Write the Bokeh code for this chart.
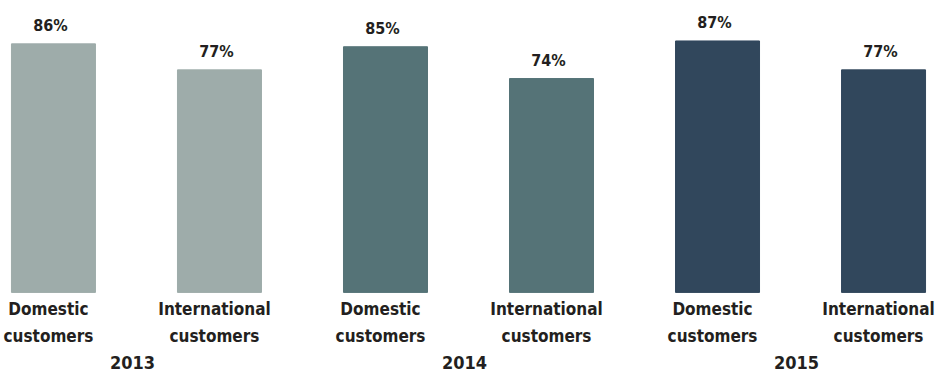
from bokeh.plotting import figure
from bokeh.models import ColumnDataSource, Range1d
from bokeh.embed import file_html
from bokeh.resources import INLINE
from bokeh.core.properties import value

years = ["2013", "2014", "2015"]
segments = ["Domestic customers", "International customers"]
satisfaction = {
    "2013": [86, 77],
    "2014": [85, 74],
    "2015": [87, 77],
}
year_colors = ["#9eacaa", "#557377", "#31475c"]

FONT = value("DejaVu Sans Condensed")

xs, tops, colors, seg_labels, pct_labels = [], [], [], [], []
k = 0
for yi, yr in enumerate(years):
    for si, seg in enumerate(segments):
        xs.append(k)
        tops.append(satisfaction[yr][si])
        colors.append(year_colors[yi])
        seg_labels.append(seg.replace(" ", "\n"))
        pct_labels.append(f"{satisfaction[yr][si]}%")
        k += 1

src = ColumnDataSource(dict(x=xs, top=tops, color=colors, seg=seg_labels, pct=pct_labels,
                            zero=[0] * len(xs)))
ysrc = ColumnDataSource(dict(x=[i * 2 + 0.5 for i in range(len(years))], y=[0] * len(years), yr=years))

p = figure(width=936, height=374, output_backend="svg", toolbar_location=None,
           x_range=Range1d(-0.319, 5.319), y_range=Range1d(-28.4, 101.0),
           min_border=0, outline_line_color=None)
p.axis.visible = False
p.grid.visible = False
p.background_fill_color = "white"

p.vbar(x="x", top="top", bottom=0, width=0.506, color="color", source=src)

p.text(x="x", y="top", text="pct", source=src, text_align="center", text_baseline="bottom",
       x_offset=-3, y_offset=-9, text_font=FONT, text_font_style="bold", text_font_size="16px",
       text_color="#231f20")

p.text(x="x", y="zero", text="seg", source=src, text_align="center", text_baseline="top",
       x_offset=-5, y_offset=7, text_font=FONT, text_font_style="bold", text_font_size="17px",
       text_line_height=1.31, text_color="#231f20")

p.text(x="x", y="y", text="yr", source=ysrc, text_align="center", text_baseline="top",
       x_offset=-4, y_offset=64, text_font=FONT, text_font_style="bold", text_font_size="18px",
       text_color="#231f20")

open("out.html", "w").write(file_html(p, INLINE))
